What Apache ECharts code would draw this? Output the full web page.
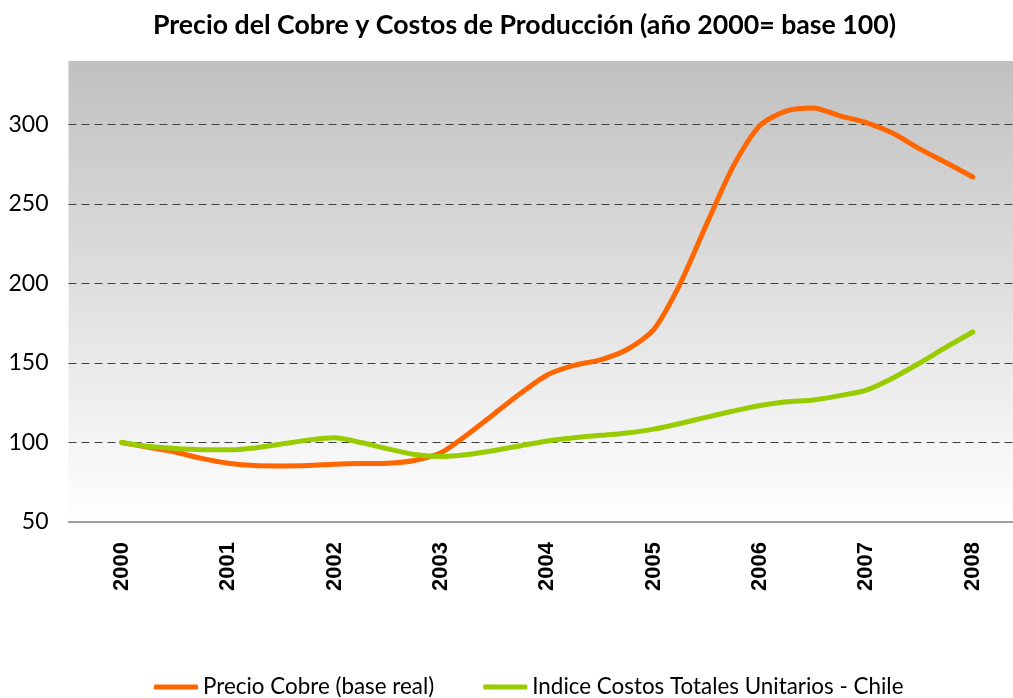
<!DOCTYPE html>
<html>
<head>
<meta charset="utf-8">
<title>Precio del Cobre y Costos de Producción</title>
<script src="https://cdn.jsdelivr.net/npm/echarts@6/dist/echarts.min.js"></script>
<style>
  html, body { margin: 0; padding: 0; background: #fff; }
  #chart { width: 1013px; height: 698px; }
</style>
</head>
<body>
<div id="chart"></div>
<script>
// years shown on the axis
var years = ['2000', '2001', '2002', '2003', '2004', '2005', '2006', '2007', '2008'];

// quarter positions, in years after 2000
var quarters = [0, 0.25, 0.5, 0.75, 1, 1.25, 1.5, 1.75, 2, 2.25, 2.5, 2.75,
  3, 3.25, 3.5, 3.75, 4, 4.25, 4.5, 4.75, 5, 5.25, 5.5, 5.75,
  6, 6.25, 6.5, 6.75, 7, 7.25, 7.5, 7.75, 8];

// Precio Cobre (base real), 2000 = 100
var precioCobre = [100, 97, 94, 90, 87, 85.5, 85.3, 85.5, 86.3, 86.8, 87, 88.7,
  93.5, 105, 118, 131, 142.5, 148.5, 152, 158.5, 171, 200, 237.7, 274,
  299.5, 308.7, 310.5, 305.5, 301.3, 294.5, 284.7, 276, 267];

// Indice Costos Totales Unitarios - Chile, 2000 = 100
var costosChile = [100, 97.5, 96.3, 95.5, 95.4, 96.6, 99, 101.5, 103, 100, 96, 92.5,
  91.2, 92.5, 95, 98, 101, 103, 104.5, 106, 108.4, 112, 116, 119.8,
  123.3, 125.6, 126.8, 129.5, 133, 140.6, 150, 160, 169.5];

var yTicks = { min: 50, max: 340, step: 50 };

function pairs(xs, ys) {
  return xs.map(function (x, i) { return [x, ys[i]]; });
}

var chart = echarts.init(document.getElementById('chart'));

chart.setOption({
  animation: false,
  backgroundColor: '#ffffff',
  title: {
    text: 'Precio del Cobre y Costos de Producción (año 2000= base 100)',
    left: 148,
    top: 7,
    textStyle: { fontFamily: 'Lato', fontWeight: 'bold', fontSize: 26.7, color: '#000' }
  },
  legend: {
    left: 154,
    top: 676,
    padding: 0,
    itemWidth: 44,
    itemHeight: 5,
    itemGap: 49,
    icon: 'roundRect',
    textStyle: { fontFamily: 'Lato', fontSize: 22.4, color: '#000' },
    data: ['Precio Cobre (base real)', 'Indice Costos Totales Unitarios - Chile']
  },
  grid: {
    left: 68.5,
    width: 957.5,
    top: 61,
    bottom: 176,
    outerBoundsMode: 'none',
    containLabel: false,
    show: true,
    borderWidth: 0,
    backgroundColor: {
      type: 'linear', x: 0, y: 0, x2: 0, y2: 1,
      colorStops: [
        { offset: 0, color: '#c0c0c0' },
        { offset: 1, color: '#ffffff' }
      ]
    }
  },
  xAxis: [
    {
      type: 'category',
      data: years,
      boundaryGap: true,
      axisLine: { lineStyle: { color: '#808080', width: 1.5 } },
      axisTick: { length: 7, lineStyle: { color: '#808080', width: 1.5 } },
      axisLabel: {
        rotate: 90,
        margin: 20,
        fontFamily: 'Liberation Sans',
        fontWeight: 'bold',
        fontSize: 22,
        color: '#000'
      }
    },
    {
      type: 'value',
      min: -0.5,
      max: 8.5,
      show: false
    }
  ],
  yAxis: {
    type: 'value',
    min: yTicks.min,
    max: yTicks.max,
    interval: yTicks.step,
    axisLine: { show: false },
    axisTick: { show: false },
    axisLabel: {
      showMaxLabel: false,
      margin: 20,
      fontFamily: 'Lato',
      fontSize: 23,
      color: '#000'
    },
    splitLine: {
      show: true,
      showMinLine: false,
      showMaxLine: false,
      lineStyle: { color: '#404040', width: 1.2, type: [8, 5] }
    }
  },
  series: [
    {
      name: 'Precio Cobre (base real)',
      type: 'line',
      xAxisIndex: 1,
      data: pairs(quarters, precioCobre),
      smooth: 0.25,
      showSymbol: false,
      lineStyle: { color: '#ff6600', width: 5, cap: 'round', join: 'round' },
      itemStyle: { color: '#ff6600' },
      z: 3
    },
    {
      name: 'Indice Costos Totales Unitarios - Chile',
      type: 'line',
      xAxisIndex: 1,
      data: pairs(quarters, costosChile),
      smooth: 0.25,
      showSymbol: false,
      lineStyle: { color: '#99cc00', width: 5, cap: 'round', join: 'round' },
      itemStyle: { color: '#99cc00' },
      z: 4
    }
  ]
});
</script>
</body>
</html>
